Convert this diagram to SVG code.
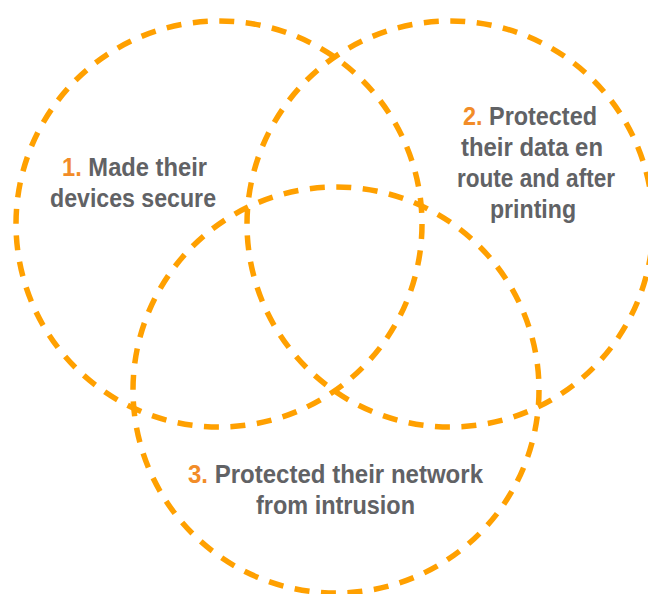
<svg xmlns="http://www.w3.org/2000/svg" width="648" height="594" viewBox="0 0 648 594">
  <style>
    .ring { fill: none; stroke: #FFA000; stroke-width: 5.5; stroke-dasharray: 15 11.57; }
    .lbl { font-family: "Liberation Sans", Arial, sans-serif; font-weight: bold; font-size: 25px; fill: #616265; text-anchor: middle; }
    .num { fill: #F28C28; }
  </style>
  <rect width="648" height="594" fill="#FFFFFF"/>
  <g id="circle-1">
    <circle class="ring" cx="219" cy="224" r="203"/>
    <text class="lbl" x="134.5" y="176" textLength="145" lengthAdjust="spacingAndGlyphs"><tspan class="num">1.</tspan> Made their</text>
    <text class="lbl" x="133" y="207" textLength="166" lengthAdjust="spacingAndGlyphs">devices secure</text>
  </g>
  <g id="circle-2">
    <circle class="ring" cx="450" cy="224" r="203"/>
    <text class="lbl" x="530" y="125" textLength="134" lengthAdjust="spacingAndGlyphs"><tspan class="num">2.</tspan> Protected</text>
    <text class="lbl" x="532" y="156" textLength="142" lengthAdjust="spacingAndGlyphs">their data en</text>
    <text class="lbl" x="536" y="187" textLength="158" lengthAdjust="spacingAndGlyphs">route and after</text>
    <text class="lbl" x="533" y="218" textLength="86" lengthAdjust="spacingAndGlyphs">printing</text>
  </g>
  <g id="circle-3">
    <circle class="ring" cx="336" cy="390" r="203"/>
    <text class="lbl" x="335.5" y="483" textLength="295" lengthAdjust="spacingAndGlyphs"><tspan class="num">3.</tspan> Protected their network</text>
    <text class="lbl" x="335.5" y="514" textLength="159" lengthAdjust="spacingAndGlyphs">from intrusion</text>
  </g>
  <g id="connectors"></g>
</svg>
